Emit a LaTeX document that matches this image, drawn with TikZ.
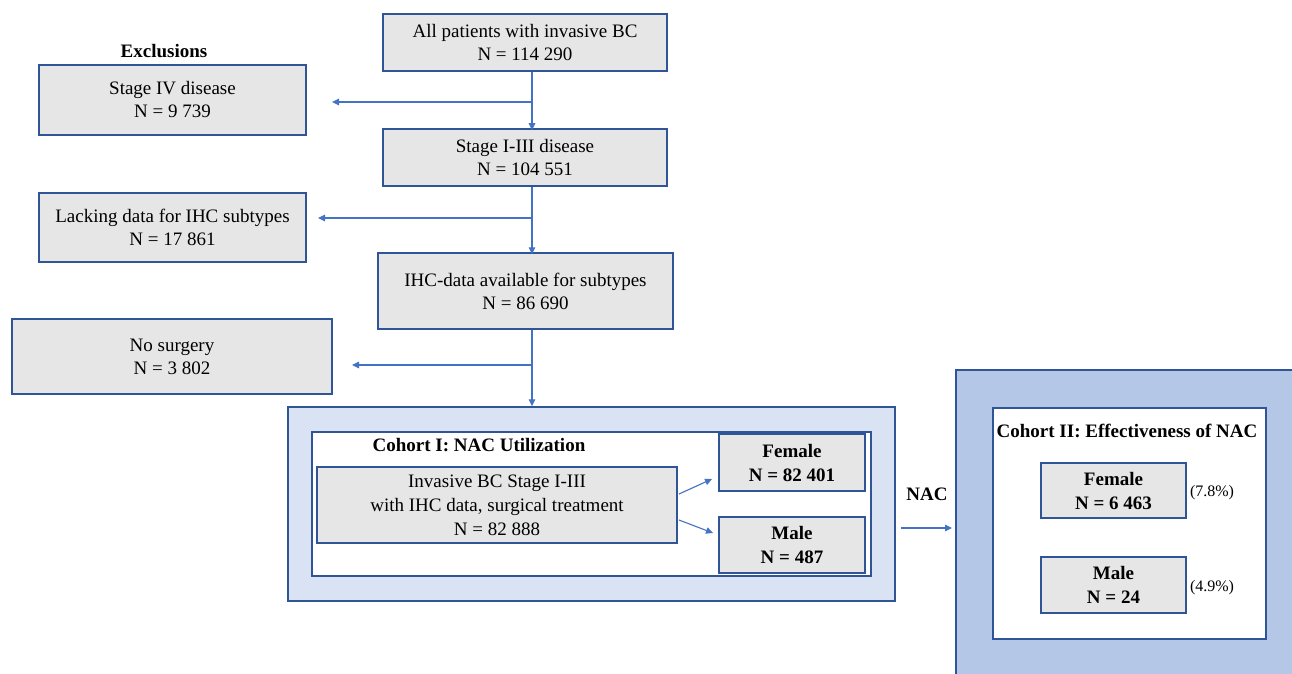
\documentclass[tikz,border=0pt]{standalone}
\usepackage{fontspec}
\setmainfont{Liberation Serif}
\usetikzlibrary{arrows.meta,calc}
\definecolor{bord}{HTML}{2F5597}
\definecolor{arr}{HTML}{4472C4}
\definecolor{boxfill}{HTML}{E7E6E6}
\definecolor{coA}{HTML}{DAE3F3}
\definecolor{coB}{HTML}{B4C7E7}
\begin{document}
\begin{tikzpicture}[x=1pt,y=-1pt,
  font=\fontsize{19}{23}\selectfont,
  gbox/.style={draw=bord, line width=1.5pt, fill=boxfill, align=center, inner sep=0pt},
  frame/.style={draw=bord, line width=1.5pt, inner sep=0pt},
  conn/.style={draw=arr, line width=1.1pt, -{Triangle[length=7pt,width=6.5pt]}},
  plainline/.style={draw=arr, line width=1.1pt},
  bold/.style={font=\fontsize{19}{23}\selectfont\bfseries, align=center, inner sep=0pt},
]
\useasboundingbox (0,0) rectangle (1292,674);
\clip (0,0) rectangle (1292,674);
\fill[white] (0,0) rectangle (1292,674);

% Cohort II background
\node[frame, fill=coB, minimum width=380pt, minimum height=340pt, anchor=north west] (c2outer) at (955,369) {};

% main column
\node[gbox, minimum width=284pt, minimum height=57pt] (top) at (525,42.5) {All patients with invasive BC\\N = 114 290};
\node[gbox, minimum width=284pt, minimum height=57pt] (s3) at (525,157.5) {Stage I-III disease\\N = 104 551};
\node[gbox, minimum width=295pt, minimum height=76pt] (ihc) at (525.5,291) {IHC-data available for subtypes\\N = 86 690};

% exclusions
\node[bold] (excl) at (164,51) {Exclusions};
\node[gbox, minimum width=267pt, minimum height=70pt] (s4) at (172.5,100) {Stage IV disease\\N = 9 739};
\node[gbox, minimum width=267pt, minimum height=69pt] (lack) at (172.5,227.5) {Lacking data for IHC subtypes\\N = 17 861};
\node[gbox, minimum width=320pt, minimum height=75pt] (nosurg) at (172,356.5) {No surgery\\N = 3 802};

% Cohort I
\node[frame, fill=coA, minimum width=607pt, minimum height=194pt] (c1outer) at (591.5,504) {};
\node[frame, fill=white, minimum width=559pt, minimum height=144pt] (c1inner) at (591.5,504) {};
\node[bold] (c1title) at (479,445) {Cohort I: NAC Utilization};
\node[gbox, font=\fontsize{19}{24}\selectfont, minimum width=360pt, minimum height=76pt] (c1main) at (497,505) {Invasive BC Stage I-III\\with IHC data, surgical treatment\\N = 82 888};
\node[gbox, font=\fontsize{19}{24}\selectfont\bfseries, minimum width=146pt, minimum height=57pt] (f1) at (792,462.5) {Female\\N = 82 401};
\node[gbox, font=\fontsize{19}{24}\selectfont\bfseries, minimum width=146pt, minimum height=56pt] (m1) at (792,545) {Male\\N = 487};

% Cohort II
\node[frame, fill=white, minimum width=273pt, minimum height=231pt] (c2inner) at (1129.5,523.5) {};
\node[bold] (c2title) at (1127,431) {Cohort II: Effectiveness of NAC};
\node[gbox, font=\fontsize{19}{24}\selectfont\bfseries, minimum width=145pt, minimum height=55pt] (f2) at (1113.5,490.5) {Female\\N = 6 463};
\node[gbox, font=\fontsize{19}{24}\selectfont\bfseries, minimum width=145pt, minimum height=56pt] (m2) at (1113.5,585) {Male\\N = 24};
\node[font=\fontsize{16}{19}\selectfont, inner sep=0pt] (p1) at (1212,493) {(7.8\%)};
\node[font=\fontsize{16}{19}\selectfont, inner sep=0pt] (p2) at (1212,588) {(4.9\%)};

\node[bold] (nac) at (927,494) {NAC};

% connectors
\coordinate (j1) at (532,102);
\coordinate (e1) at (332,102);
\coordinate (j2) at (532,218);
\coordinate (e2) at (318,218);
\coordinate (j3) at (532,365);
\coordinate (e3) at (352,365);
\draw[plainline] (top.south -| j1) -- (j1);
\draw[conn] (j1) -- ([yshift=-2pt]s3.north -| j1);
\draw[conn] (j1) -- (e1);
\draw[plainline] (s3.south -| j2) -- (j2);
\draw[conn] (j2) -- ([yshift=-2pt]ihc.north -| j2);
\draw[conn] (j2) -- (e2);
\draw[plainline] (ihc.south -| j3) -- (j3);
\draw[conn] (j3) -- (c1outer.north -| j3);
\draw[conn] (j3) -- (e3);

\coordinate (fa) at (679,494);
\coordinate (fb) at (712,479);
\coordinate (ma) at (679,520);
\coordinate (mb) at (713,533);
\draw[conn] (fa) -- (fb);
\draw[conn] (ma) -- (mb);

\coordinate (na) at (901,528);
\coordinate (nb) at (952,528);
\draw[conn] (na) -- (nb);
\end{tikzpicture}
\end{document}
